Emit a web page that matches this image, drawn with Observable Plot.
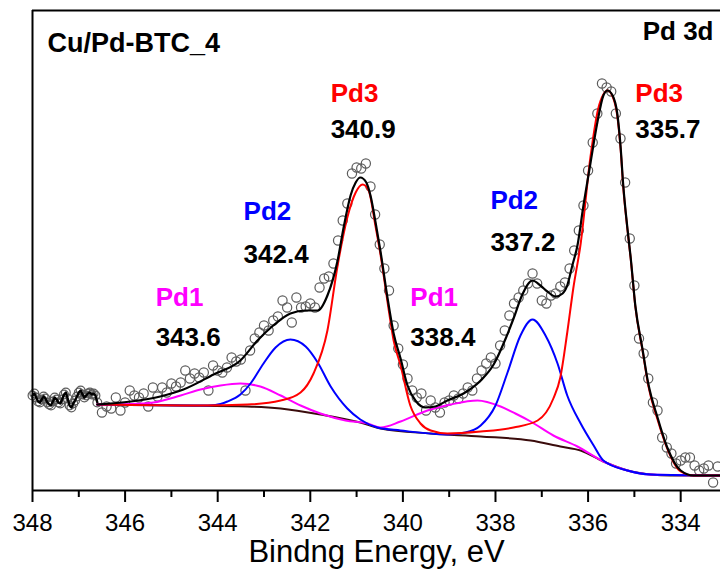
<!DOCTYPE html>
<html>
<head>
<meta charset="utf-8">
<script src="https://cdn.jsdelivr.net/npm/d3@7"></script>
<script src="https://cdn.jsdelivr.net/npm/@observablehq/plot@0.6"></script>
<style>
  body { margin: 0; background: #fff; }
  #chart svg { display: block; }
</style>
</head>
<body>
<div id="chart"></div>
<script>
// ---------- data (binding energy eV, intensity a.u.) ----------
const sampleName = "Cu/Pd-BTC_4";
const regionName = "Pd 3d";
const xLabel = "Bindng Energy, eV";
const majorTicks = [348, 346, 344, 342, 340, 338, 336, 334];
const minorTicks = [347, 345, 343, 341, 339, 337, 335, 333];

const peakNames = ["Pd3", "Pd2", "Pd1", "Pd1", "Pd2", "Pd3"];
const peakEnergies = ["340.9", "342.4", "343.6", "338.4", "337.2", "335.7"];

// dense raw region
const rawDense = [
  [348.00,95],[347.96,97],[347.92,93],[347.88,89],[347.84,88],[347.80,91],[347.76,94],[347.72,92],
  [347.68,88],[347.64,86],[347.60,85],[347.56,89],[347.52,93],[347.48,91],[347.44,88],[347.40,87],
  [347.36,91],[347.32,96],[347.28,98],[347.24,92],[347.20,85],[347.16,83],[347.12,87],[347.08,90],
  [347.04,94],[347.00,98],[346.96,100],[346.92,96],[346.88,93],[346.84,95],[346.80,97],[346.76,98],
  [346.72,96],[346.68,97],[346.64,95],[346.60,88]
];

// measured points
const rawPoints = [
  [346.5,78],[346.4,84],[346.3,82],[346.2,93],[346.1,80],[346.0,88],[345.9,100],[345.8,95],[345.7,93],
  [345.6,97],[345.5,84],[345.4,103],[345.3,94],[345.2,103],[345.1,98],[345.0,107],[344.9,104],[344.8,108],
  [344.7,120],[344.6,112],[344.5,117],[344.4,113],[344.3,118],[344.2,100],[344.1,125],[344.0,120],
  [343.9,118],[343.8,123],[343.7,133],[343.6,129],[343.5,131],[343.4,100],[343.3,140],[343.2,152],
  [343.1,158],[343.0,165],[342.9,160],[342.8,170],[342.7,174],[342.6,190],[342.5,183],[342.4,168],
  [342.3,193],[342.2,183],[342.1,184],[342.0,187],[341.9,183],[341.8,203],[341.7,212],[341.6,214],
  [341.5,227],[341.4,250],[341.3,270],[341.2,287],[341.1,317],[341.0,323],[340.9,322],[340.8,327],
  [340.7,304],[340.6,276],[340.5,246],[340.4,222],[340.3,200],[340.2,165],[340.1,142],[340.0,126],
  [339.9,112],[339.8,100],[339.7,93],[339.6,97],[339.5,80],[339.4,90],[339.3,83],[339.2,78],
  [339.1,88],[339.0,90],[338.9,95],[338.8,92],[338.7,97],[338.6,103],[338.5,100],[338.4,112],
  [338.3,120],[338.2,127],[338.1,133],[338.0,127],[337.9,145],[337.8,160],[337.7,175],[337.6,187],
  [337.5,193],[337.4,200],[337.3,207],[337.2,217],[337.1,207],[337.0,190],[336.9,187],[336.8,195],
  [336.7,197],[336.6,204],[336.5,208],[336.4,222],[336.3,240],[336.2,260],[336.1,285],[336.0,320],
  [335.9,348],[335.8,377],[335.7,407],[335.6,403],[335.5,399],[335.4,377],[335.3,352],[335.2,308],
  [335.1,252],[335.0,205],[334.9,152],[334.8,137],[334.7,112],[334.6,88],[334.5,80],[334.4,53],
  [334.3,43],[334.2,37],[334.1,27],[334.0,30],[333.9,33],[333.8,33],[333.7,25],[333.6,20],
  [333.5,22],[333.4,25],[333.3,8],[333.2,24]
];

// Shirley background
const backgroundCurve = [
  [346.60,86],[344.80,85],[343.36,84],[342.64,82],[341.78,76],[340.92,68],[340.48,62],[339.40,57],
  [338.32,54],[337.24,50],[336.60,44],[336.16,40],[335.67,29],[335.15,20],[334.65,16],[334.22,15],[333.14,15]
];

// Pd1 component (+ background)
const pd1Curve = [
  [346.60,86],[345.88,86.5],[345.39,88],[344.80,95],[344.37,101],[343.94,105],[343.51,107],[343.08,104],
  [342.64,95],[342.21,85],[341.78,77],[341.24,70],[340.76,67],[340.48,63],[340.05,69],[339.47,80],
  [338.97,86],[338.39,90],[337.89,84],[337.57,77],[337.24,69],[336.75,55],[336.23,44],[335.67,29],
  [335.15,20],[334.65,16],[333.14,15]
];

// Pd2 component (+ background)
const pd2Curve = [
  [346.60,86],[344.37,85],[344.05,85.5],[343.79,89],[343.51,96],[343.29,107],[343.01,127],[342.75,143],
  [342.43,151],[342.10,144],[341.84,128],[341.56,104],[341.20,82],[340.92,71],[340.55,63],[340.05,60],
  [339.04,56],[338.65,58],[338.32,65],[338.00,85],[337.74,118],[337.46,155],[337.20,171],[336.92,155],
  [336.66,127],[336.45,95],[336.16,67],[335.88,45],[335.67,30],[335.15,20],[334.65,16],[333.14,15]
];

// Pd3 component (+ background)
const pd3Curve = [
  [346.60,86],[344.37,85],[343.36,86],[342.64,90],[342.21,98],[341.93,117],[341.63,160],[341.41,225],
  [341.20,273],[341.02,298],[340.87,306],[340.74,300],[340.59,264],[340.48,235],[340.33,188],[340.20,150],
  [340.05,125],[339.84,85],[339.62,67],[339.40,60],[339.04,57],[338.32,59],[337.61,63],[337.09,70],
  [336.75,92],[336.60,113],[336.45,158],[336.32,202],[336.16,247],[335.95,333],[335.78,382],[335.67,396],
  [335.58,400],[335.47,394],[335.37,375],[335.30,343],[335.24,303],[335.15,261],[335.08,232],[334.98,184],
  [334.82,139],[334.70,105],[334.50,71],[334.29,42],[334.00,19],[333.72,15],[333.14,15]
];

// Envelope (sum)
const envelopeCurve = [
  [346.60,86],[345.88,89],[345.24,94],[344.74,101],[344.09,116],[343.51,130],[343.14,150],[342.80,165],
  [342.43,177],[342.10,180],[341.84,180],[341.63,195],[341.41,230],[341.28,263],[341.13,295],[341.02,308],
  [340.92,313],[340.79,308],[340.70,295],[340.59,268],[340.48,238],[340.33,192],[340.20,157],[340.05,132],
  [339.90,105],[339.73,90],[339.51,83],[339.30,84],[339.04,90],[338.69,97],[338.32,110],[338.04,126],
  [337.78,152],[337.61,172],[337.42,196],[337.20,210],[337.03,205],[336.88,199],[336.70,194],[336.55,197],
  [336.45,205],[336.34,225],[336.23,245],[336.10,285],[335.95,327],[335.80,368],[335.67,395],[335.58,400],
  [335.47,395],[335.37,377],[335.30,345],[335.24,305],[335.15,262],[335.08,233],[334.98,185],[334.82,140],
  [334.70,107],[334.50,73],[334.29,43],[334.00,20],[333.72,15],[333.14,15]
];

// ---------- layout of annotations (label anchor in data coords) ----------
const labelAnchors = [
  [341.56, 397, 361], [343.44, 279, 236], [345.34, 193, 153],
  [339.84, 193, 153], [338.11, 290, 248], [334.98, 397, 361]
];
const nameColors = { Pd1: "#ff00ff", Pd2: "#0000ff", Pd3: "#ff0000" };

const labelRows = [];
peakNames.forEach((n, i) => {
  const [x, yName, yVal] = labelAnchors[i];
  labelRows.push({ x, y: yName, text: n, color: nameColors[n] });
  labelRows.push({ x, y: yVal, text: peakEnergies[i], color: "#000" });
});

const X = d => d[0], Y = d => d[1];
const font = "Arial, 'Liberation Sans', Helvetica, sans-serif";

const chart = Plot.plot({
  width: 720,
  height: 577,
  marginLeft: 32,
  marginRight: 0,
  marginTop: 10,
  marginBottom: 87,
  style: { fontFamily: font, background: "#fff", color: "#000", overflow: "visible" },
  x: { domain: [348, 333.14] },
  y: { domain: [0, 480], axis: null },
  marks: [
    Plot.dot(rawDense, { x: X, y: Y, r: 4.4, stroke: "#5c5c5c", strokeWidth: 1.2, fill: "none" }),
    Plot.dot(rawPoints, { x: X, y: Y, r: 4.6, stroke: "#5c5c5c", strokeWidth: 1.2, fill: "none" }),
    Plot.line(rawDense, { x: X, y: Y, stroke: "#000", strokeWidth: 2.4 }),
    Plot.line(backgroundCurve, { x: X, y: Y, stroke: "#3a0c0c", strokeWidth: 2, curve: "monotone-x" }),
    Plot.line(pd1Curve, { x: X, y: Y, stroke: "#ff00ff", strokeWidth: 2, curve: "monotone-x" }),
    Plot.line(pd2Curve, { x: X, y: Y, stroke: "#0000ff", strokeWidth: 2, curve: "monotone-x" }),
    Plot.line(pd3Curve, { x: X, y: Y, stroke: "#ff0000", strokeWidth: 2, curve: "monotone-x" }),
    Plot.line(envelopeCurve, { x: X, y: Y, stroke: "#000", strokeWidth: 2.2, curve: "monotone-x" }),
    Plot.ruleY([0, 480], { stroke: "#000", strokeWidth: 2 }),
    Plot.ruleX([348], { stroke: "#000", strokeWidth: 2 }),
    Plot.axisX({ ticks: majorTicks, tickSize: 12, tickPadding: 11, fontSize: 24, strokeWidth: 2, label: null, tickFormat: d => String(d) }),
    Plot.axisX({ ticks: minorTicks, tickSize: 7, strokeWidth: 2, label: null, tickFormat: () => "" }),
    Plot.text(labelRows, { x: "x", y: "y", text: "text", fill: "color", fontSize: 26, fontWeight: "bold", textAnchor: "start", lineAnchor: "middle" }),
    Plot.text([sampleName], { frameAnchor: "top-left", dx: 15, dy: 33, fontSize: 27, fontWeight: "bold", textAnchor: "start", lineAnchor: "middle", fill: "#000" }),
    Plot.text([regionName], { frameAnchor: "top-right", dx: -7, dy: 21, fontSize: 26, fontWeight: "bold", textAnchor: "end", lineAnchor: "middle", fill: "#000" }),
    Plot.text([xLabel], { frameAnchor: "bottom", dy: 62, fontSize: 31, lineAnchor: "middle", fill: "#000" })
  ]
});
document.getElementById("chart").append(chart);
</script>
</body>
</html>
